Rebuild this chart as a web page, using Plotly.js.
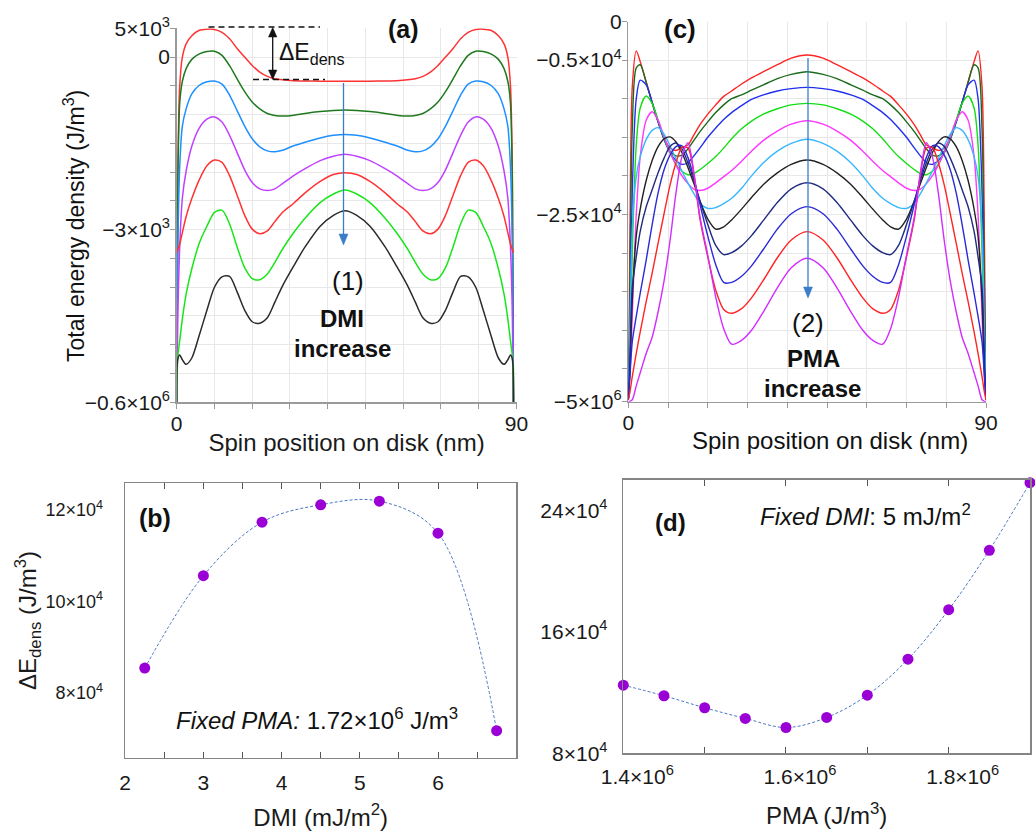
<!DOCTYPE html>
<html>
<head>
<meta charset="utf-8">
<script src="https://cdn.plot.ly/plotly-3.0.1.min.js"></script>
<style>
  html, body { margin: 0; padding: 0; background: #ffffff; }
  #chart { width: 1035px; height: 832px; }
</style>
</head>
<body>
<div id="chart"></div>
<script>
// ---------- Panel (a): total energy density vs spin position, DMI increase (units: 10^3 J/m^3) ----------
const posA = [0,0.3,0.8,1.5,2.5,4,6,8,10,12,14,16,18,20,22,24,26,28,31,34,38,41.5,44.6,47.7,51.2,55.2,58.2,61.2,63.2,65.2,67.2,69.2,71.2,73.2,75.2,77.2,79.2,81.2,83.2,85.2,86.7,87.7,88.4,88.9,89.2];
const energyA1 = [-60,-20,-5,0,2.3,3.7,4.65,4.85,4.8,4.3,3.2,1.5,0,-1.45,-2.6,-3.35,-3.75,-3.95,-4.1,-4.15,-4.2,-4.2,-4.2,-4.2,-4.2,-4.15,-4.1,-3.95,-3.75,-3.35,-2.6,-1.45,0,1.5,3.2,4.3,4.8,4.85,4.65,3.7,2.3,0,-5,-20,-60];
const energyA2 = [-60,-22,-8,-4.2,-2,-0.4,0.55,0.95,1,0.3,-1.5,-3.8,-6,-7.8,-9,-9.8,-10.15,-10.25,-10.1,-9.8,-9.48,-9.28,-9.2,-9.28,-9.48,-9.8,-10.1,-10.25,-10.15,-9.8,-9,-7.8,-6,-3.8,-1.5,0.3,1,0.95,0.55,-0.4,-2,-4.2,-8,-22,-60];
const energyA3 = [-60,-33,-19,-12,-9,-6.4,-4.9,-4.3,-4.17,-4.7,-6.6,-9.3,-12,-14.2,-15.6,-16.3,-16.45,-16.2,-15.4,-14.8,-14.05,-13.6,-13.44,-13.6,-14.05,-14.8,-15.4,-16.2,-16.45,-16.3,-15.6,-14.2,-12,-9.3,-6.6,-4.7,-4.17,-4.3,-4.9,-6.4,-9,-12,-19,-33,-60];
const energyA4 = [-60,-45,-33,-24.5,-19.8,-15.5,-12.3,-10.8,-10.4,-11.3,-13.6,-16.6,-19.6,-21.8,-22.9,-23.2,-22.9,-22,-20.6,-19.4,-18,-17.25,-16.9,-17.25,-18,-19.4,-20.6,-22,-22.9,-23.2,-22.9,-21.8,-19.6,-16.6,-13.6,-11.3,-10.4,-10.8,-12.3,-15.5,-19.8,-24.5,-33,-45,-60];
const energyA5 = [-34,-33.5,-32.5,-30.5,-27.7,-24.6,-21.3,-18.9,-17.9,-18.3,-20.6,-24,-27.5,-29.9,-30.7,-30.2,-28.6,-27,-25.4,-23.6,-21.6,-20.4,-20.1,-20.4,-21.6,-23.6,-25.4,-27,-28.6,-30.2,-30.7,-29.9,-27.5,-24,-20.6,-18.3,-17.9,-18.9,-21.3,-24.6,-27.7,-30.5,-32.5,-33.5,-34];
const energyA6 = [-60,-52,-49.3,-45.5,-41.2,-36.8,-32.3,-29.4,-27,-26.6,-29,-33,-36.6,-38.5,-38.7,-37.7,-35.7,-33.4,-30.5,-28,-25.3,-23.8,-23.1,-23.8,-25.3,-28,-30.5,-33.4,-35.7,-37.7,-38.7,-38.5,-36.6,-33,-29,-26.6,-27,-29.4,-32.3,-36.8,-41.2,-45.5,-49.3,-52,-60];
const energyA7 = [-60,-52.5,-51.8,-52.6,-53.4,-52.3,-48.3,-44,-40,-38.2,-38.1,-40.8,-44,-46,-46.25,-45.3,-42.6,-39.8,-36.3,-33,-29.4,-27.5,-26.7,-27.5,-29.4,-33,-36.3,-39.8,-42.6,-45.3,-46.25,-46,-44,-40.8,-38.1,-38.2,-40,-44,-48.3,-52.3,-53.4,-52.6,-51.8,-52.5,-60];
const seriesA = [energyA1, energyA2, energyA3, energyA4, energyA5, energyA6, energyA7];
const colorsA = ['#ff3333', '#1f7a1f', '#1e8fff', '#c040ff', '#ff3333', '#19e619', '#2b2b2b'];
const yLabelValsA = [-60, -30, 0, 5];
const yLabelTextA = ['\u22120.6×10<sup>6</sup>', '\u22123×10<sup>3</sup>', '0', '5×10<sup>3</sup>'];
const yMinorValsA = [-55,-50,-45,-40,-35,-25,-20,-15,-10,-5];

// ---------- Panel (c): total energy density vs spin position, PMA increase (units: 10^3 J/m^3) ----------
const posC = [0,0.4,1,2,3,4.5,6,7.5,9,10.5,12,13.5,15,16.5,18,20,22,24,26,28.5,31,34,37.5,41,45,49,52.5,56,59,61.5,64,66,68,70,72,73.5,75,76.5,78,79.5,81,82.5,84,85.5,87,88,89,89.6,90];
const energyC1 = [-49,-28,-8.5,-3.8,-5.2,-7.8,-10.5,-13,-15.1,-16.4,-16.7,-16.3,-16,-14.7,-13.4,-12,-10.8,-9.7,-9,-8.1,-7.3,-6.5,-5.6,-4.75,-4.34,-4.75,-5.6,-6.5,-7.3,-8.1,-9,-9.7,-10.8,-12,-13.4,-14.7,-16,-16.3,-16.7,-16.4,-15.1,-13,-10.5,-7.8,-5.2,-3.8,-8.5,-28,-49];
const energyC2 = [-49,-35,-14,-6,-5.6,-7.9,-10.5,-13,-15.2,-16.8,-17.4,-17.3,-16.5,-15.4,-14.3,-13,-11.8,-10.8,-10,-9.5,-8.9,-8.2,-7.4,-6.85,-6.5,-6.85,-7.4,-8.2,-8.9,-9.5,-10,-10.8,-11.8,-13,-14.3,-15.4,-16.5,-17.3,-17.4,-16.8,-15.2,-13,-10.5,-7.9,-5.6,-6,-14,-35,-49];
const energyC3 = [-49,-40,-22,-10,-7.6,-8.2,-10.5,-13,-15.3,-17,-18,-18.5,-18.3,-17.4,-16.4,-15,-13.8,-12.7,-11.8,-10.9,-10.1,-9.5,-9,-8.7,-8.53,-8.7,-9,-9.5,-10.1,-10.9,-11.8,-12.7,-13.8,-15,-16.4,-17.4,-18.3,-18.5,-18,-17,-15.3,-13,-10.5,-8.2,-7.6,-10,-22,-40,-49];
const energyC4 = [-49,-44,-30,-16,-11.2,-9.65,-10.6,-12.8,-15.1,-17,-18.5,-19.4,-19.85,-19.7,-19.2,-18.4,-17.5,-16.4,-15.2,-13.9,-12.9,-12,-11.3,-10.8,-10.6,-10.8,-11.3,-12,-12.9,-13.9,-15.2,-16.4,-17.5,-18.4,-19.2,-19.7,-19.85,-19.4,-18.5,-17,-15.1,-12.8,-10.6,-9.65,-11.2,-16,-30,-44,-49];
const energyC5 = [-49,-46,-38,-25,-17.5,-12.8,-11.7,-12.8,-14.9,-16.9,-18.6,-20,-21,-21.7,-21.9,-21.6,-20.9,-20.1,-19.3,-18.1,-16.8,-15.4,-14.2,-13.3,-12.85,-13.3,-14.2,-15.4,-16.8,-18.1,-19.3,-20.1,-20.9,-21.6,-21.9,-21.7,-21,-20,-18.6,-16.9,-14.9,-12.8,-11.7,-12.8,-17.5,-25,-38,-46,-49];
const energyC6 = [-49,-40,-27,-20.1,-17.5,-15.3,-14.1,-13.75,-14.6,-16.1,-17.8,-19.4,-20.9,-22.3,-23.5,-24.2,-24.1,-23.6,-22.9,-21.6,-20,-18.3,-16.8,-15.8,-15.26,-15.8,-16.8,-18.3,-20,-21.6,-22.9,-23.6,-24.1,-24.2,-23.5,-22.3,-20.9,-19.4,-17.8,-16.1,-14.6,-13.75,-14.1,-15.3,-17.5,-20.1,-27,-40,-49];
const energyC7 = [-49,-45,-36,-27.8,-24.3,-20.6,-18,-16.2,-15.2,-14.95,-15.6,-17,-18.9,-21,-23.2,-25.6,-26.9,-26.6,-25.7,-24.3,-22.8,-21.1,-19.6,-18.5,-17.94,-18.5,-19.6,-21.1,-22.8,-24.3,-25.7,-26.6,-26.9,-25.6,-23.2,-21,-18.9,-17,-15.6,-14.95,-15.2,-16.2,-18,-20.6,-24.3,-27.8,-36,-45,-49];
const energyC8 = [-49,-44,-34.5,-30.5,-27.2,-24,-21.8,-19.6,-17.7,-16.2,-15.75,-16.5,-18.3,-20.6,-23.2,-26.3,-29,-30.2,-29.94,-29.07,-27.74,-25.77,-23.44,-21.67,-20.88,-21.67,-23.44,-25.77,-27.74,-29.07,-29.94,-30.2,-29,-26.3,-23.2,-20.6,-18.3,-16.5,-15.75,-16.2,-17.7,-19.6,-21.8,-24,-27.2,-30.5,-34.5,-44,-49];
const energyC9 = [-49,-46,-41.5,-38.2,-35.2,-30.9,-26.3,-22.2,-19.2,-17.3,-16.2,-16.1,-17.6,-20.3,-23.6,-27.8,-31.5,-33.8,-33.8,-33,-31.65,-29.5,-26.9,-24.9,-23.98,-24.9,-26.9,-29.5,-31.65,-33,-33.8,-33.8,-31.5,-27.8,-23.6,-20.3,-17.6,-16.1,-16.2,-17.3,-19.2,-22.2,-26.3,-30.9,-35.2,-38.2,-41.5,-46,-49];
const energyC10 = [-49,-48,-46,-43,-40.2,-36.3,-32.6,-28.7,-24.9,-21.2,-18.3,-16.3,-16.4,-19.8,-25.5,-30.5,-34.8,-37.3,-37.8,-37.2,-35.8,-33.5,-30.6,-28.3,-27.22,-28.3,-30.6,-33.5,-35.8,-37.2,-37.8,-37.3,-34.8,-30.5,-25.5,-19.8,-16.4,-16.3,-18.3,-21.2,-24.9,-28.7,-32.6,-36.3,-40.2,-43,-46,-48,-49];
const energyC11 = [-49.2,-49.2,-49,-47.2,-45.5,-43,-40.9,-37.6,-33.6,-28.4,-22.2,-17.5,-15.7,-19.5,-25.2,-30.3,-35.7,-39.8,-41.8,-41.3,-40,-37.6,-34.5,-31.9,-30.67,-31.9,-34.5,-37.6,-40,-41.3,-41.8,-39.8,-35.7,-30.3,-25.2,-19.5,-15.7,-17.5,-22.2,-28.4,-33.6,-37.6,-40.9,-43,-45.5,-47.2,-49,-49.2,-49.2];
const seriesC = [energyC1, energyC2, energyC3, energyC4, energyC5, energyC6, energyC7, energyC8, energyC9, energyC10, energyC11];
const colorsC = ['#ff2424', '#1b6b1b', '#2030ee', '#14dd14', '#ff38ff', '#38b6ff', '#222222', '#1f2a80', '#2a2ad6', '#ff2424', '#d22cff'];
const yLabelValsC = [-49.25, -25, -5, 0];
const yLabelTextC = ['\u22125×10<sup>6</sup>', '\u22122.5×10<sup>4</sup>', '\u22120.5×10<sup>4</sup>', '0'];
const yMinorValsC = [-45,-40,-35,-30,-20,-15,-10];

const posLabelVals = [0, 90];
const posMinorVals = [10,20,30,40,50,60,70,80];

// ---------- Panel (b): ΔE_dens vs DMI (units: 10^4 J/m^3) ----------
const dmiB = [2.25, 3, 3.75, 4.5, 5.25, 6, 6.75];
const deltaEB = [8.96, 10.98, 12.15, 12.53, 12.61, 11.91, 7.59];
const bXTicks = [2, 3, 4, 5, 6];
const bYTickVals = [8, 10, 12];
const bYTickText = ['8×10<sup>4</sup>', '10×10<sup>4</sup>', '12×10<sup>4</sup>'];

// ---------- Panel (d): ΔE_dens vs PMA (PMA in 10^6 J/m^3, ΔE in 10^4 J/m^3) ----------
const pmaD = [1.40, 1.45, 1.50, 1.55, 1.60, 1.65, 1.70, 1.75, 1.80, 1.85, 1.90];
const deltaED = [12.49, 11.79, 11.0, 10.3, 9.70, 10.36, 11.83, 14.2, 17.46, 21.37, 25.82];
const dXTickVals = [1.4, 1.6, 1.8];
const dXTickText = ['1.4×10<sup>6</sup>', '1.6×10<sup>6</sup>', '1.8×10<sup>6</sup>'];
const dYTickVals = [8, 16, 24];
const dYTickText = ['8×10<sup>4</sup>', '16×10<sup>4</sup>', '24×10<sup>4</sup>'];

// ---------- traces ----------
const FONT = 'Liberation Sans, Arial, sans-serif';
const traces = [];
seriesA.forEach((ys, i) => traces.push({
  type: 'scatter', mode: 'lines', x: posA, y: ys, xaxis: 'x', yaxis: 'y',
  line: { color: colorsA[i], width: 1.5, shape: 'spline', smoothing: 0.8 }, hoverinfo: 'skip'
}));
seriesC.forEach((ys, i) => traces.push({
  type: 'scatter', mode: 'lines', x: posC, y: ys, xaxis: 'x2', yaxis: 'y2',
  line: { color: colorsC[i], width: 1.4, shape: 'spline', smoothing: 0.8 }, hoverinfo: 'skip'
}));
traces.push({ type: 'scatter', mode: 'lines', x: dmiB, y: deltaEB, xaxis: 'x3', yaxis: 'y3',
  line: { color: '#4a78c0', width: 1, dash: '3px,2px', shape: 'spline', smoothing: 1 } });
traces.push({ type: 'scatter', mode: 'markers', x: dmiB, y: deltaEB, xaxis: 'x3', yaxis: 'y3', cliponaxis: false,
  marker: { color: '#9a00d6', size: 11 } });
traces.push({ type: 'scatter', mode: 'lines', x: pmaD, y: deltaED, xaxis: 'x4', yaxis: 'y4',
  line: { color: '#4a78c0', width: 1, dash: '3px,2px', shape: 'spline', smoothing: 1 } });
traces.push({ type: 'scatter', mode: 'markers', x: pmaD, y: deltaED, xaxis: 'x4', yaxis: 'y4', cliponaxis: false,
  marker: { color: '#9a00d6', size: 11 } });

const P = (px) => px / 1035;
const Q = (py) => 1 - py / 832;
const tri = (x1, y1, x2, y2, x3, y3) =>
  `M ${P(x1)},${Q(y1)} L ${P(x2)},${Q(y2)} L ${P(x3)},${Q(y3)} Z`;
const note = (px, py, text, size, extra) => Object.assign({
  xref: 'paper', yref: 'paper', x: P(px), y: Q(py), xanchor: 'center', yanchor: 'middle',
  showarrow: false, text: text, font: { family: FONT, size: size, color: '#111' }
}, extra || {});

const posAxisBase = {
  range: [0, 90], tickmode: 'array', tickvals: posLabelVals,
  ticks: 'outside', ticklen: 5, tickcolor: '#9a9a9a', tickwidth: 1, ticklabelstandoff: -3,
  minor: { tickmode: 'array', tickvals: posMinorVals, ticks: 'outside', ticklen: 5, tickcolor: '#9a9a9a',
           showgrid: true, gridcolor: '#e8e8e8', gridwidth: 1 },
  showgrid: true, gridcolor: '#e8e8e8', gridwidth: 1, zeroline: false,
  showline: true, linecolor: '#9a9a9a', linewidth: 1.5,
  tickfont: { family: FONT, size: 21, color: '#1a1a1a' }
};
const boxLine = '#858585';
const blueArrow = '#3b7dc9';

const layout = {
  width: 1035, height: 832,
  margin: { l: 0, r: 0, t: 0, b: 0 },
  paper_bgcolor: '#ffffff', plot_bgcolor: '#ffffff',
  showlegend: false,
  font: { family: FONT, color: '#1a1a1a' },
  xaxis: Object.assign({}, posAxisBase, { domain: [P(176.7), P(516.5)], anchor: 'y',
    title: { text: 'Spin position on disk (nm)', font: { family: FONT, size: 24, color: '#1a1a1a' }, standoff: 0 } }),
  yaxis: {
    domain: [Q(402.3), Q(28.3)], anchor: 'x', range: [-60, 5],
    tickmode: 'array', tickvals: yLabelValsA, ticktext: yLabelTextA,
    ticks: 'outside', ticklen: 5, tickcolor: '#9a9a9a', ticklabelstandoff: -4,
    minor: { tickmode: 'array', tickvals: yMinorValsA, ticks: 'outside', ticklen: 5, tickcolor: '#9a9a9a',
             showgrid: true, gridcolor: '#e8e8e8', gridwidth: 1 },
    showgrid: true, gridcolor: '#e8e8e8', zeroline: false,
    showline: true, linecolor: '#9a9a9a', linewidth: 1.5,
    tickfont: { family: FONT, size: 21, color: '#1a1a1a' }
  },
  xaxis2: Object.assign({}, posAxisBase, { domain: [P(628.3), P(986)], anchor: 'y2' }),
  yaxis2: {
    domain: [Q(401.7), Q(21.5)], anchor: 'x2', range: [-49.25, 0],
    tickmode: 'array', tickvals: yLabelValsC, ticktext: yLabelTextC,
    ticks: 'outside', ticklen: 5, tickcolor: '#9a9a9a', ticklabelstandoff: -4,
    minor: { tickmode: 'array', tickvals: yMinorValsC, ticks: 'outside', ticklen: 5, tickcolor: '#9a9a9a',
             showgrid: true, gridcolor: '#e8e8e8', gridwidth: 1 },
    showgrid: true, gridcolor: '#e8e8e8', zeroline: false,
    showline: true, linecolor: '#9a9a9a', linewidth: 1.5,
    tickfont: { family: FONT, size: 21, color: '#1a1a1a' }
  },
  xaxis3: {
    domain: [P(125.2), P(516.2)], anchor: 'y3', range: [2, 7],
    tickmode: 'array', tickvals: bXTicks, ticks: 'inside', ticklen: 6, tickcolor: '#555', ticklabelstandoff: 5,
    minor: { tickmode: 'array', tickvals: [2.5, 3.5, 4.5, 5.5, 6.5], ticks: 'inside', ticklen: 6, tickcolor: '#555' },
    mirror: 'ticks', showline: true, linecolor: boxLine, linewidth: 1.6,
    showgrid: false, zeroline: false,
    tickfont: { family: FONT, size: 21, color: '#1a1a1a' },
    title: { text: 'DMI (mJ/m<sup>2</sup>)', font: { family: FONT, size: 24, color: '#1a1a1a' }, standoff: 16 }
  },
  yaxis3: {
    domain: [Q(757.7), Q(483.3)], anchor: 'x3', range: [7, 13],
    tickmode: 'array', tickvals: bYTickVals, ticktext: bYTickText, ticks: '',
    ticklabelshift: -19, ticklabelstandoff: 17,
    mirror: true, showline: true, linecolor: boxLine, linewidth: 1.6,
    showgrid: false, zeroline: false,
    tickfont: { family: FONT, size: 18, color: '#1a1a1a' },
    title: { text: '\u0394E<sub>dens</sub> (J/m<sup>3</sup>)', font: { family: FONT, size: 24, color: '#1a1a1a' }, standoff: 0 }
  },
  yaxis5: {
    overlaying: 'y3', anchor: 'x3', side: 'right', range: [7, 13],
    tickmode: 'array', tickvals: [8, 9, 10, 11, 12], ticks: 'inside', ticklen: 6, tickcolor: '#555',
    showticklabels: false, showgrid: false, zeroline: false, showline: false
  },
  xaxis4: {
    domain: [P(623.3), P(1030)], anchor: 'y4', range: [1.4, 1.9],
    tickmode: 'array', tickvals: dXTickVals, ticktext: dXTickText, ticks: 'inside', ticklen: 6, tickcolor: '#555',
    minor: { tickmode: 'array', tickvals: [1.5, 1.7, 1.9], ticks: 'inside', ticklen: 6, tickcolor: '#555' },
    ticklabelshift: 14, ticklabelstandoff: 4,
    mirror: 'ticks', showline: true, linecolor: boxLine, linewidth: 1.6,
    showgrid: false, zeroline: false,
    tickfont: { family: FONT, size: 21, color: '#1a1a1a' },
    title: { text: 'PMA (J/m<sup>3</sup>)', font: { family: FONT, size: 24, color: '#1a1a1a' }, standoff: 20 }
  },
  yaxis4: {
    domain: [Q(753.3), Q(480)], anchor: 'x4', range: [8, 26],
    tickmode: 'array', tickvals: dYTickVals, ticktext: dYTickText, ticks: '', ticklabelstandoff: 10,
    mirror: true, showline: true, linecolor: boxLine, linewidth: 1.6,
    showgrid: false, zeroline: false,
    tickfont: { family: FONT, size: 21, color: '#1a1a1a' }
  },
  yaxis6: {
    overlaying: 'y4', anchor: 'x4', side: 'right', range: [8, 26],
    tickmode: 'array', tickvals: [10, 12, 14, 16, 18, 20, 22, 24], ticks: 'inside', ticklen: 6, tickcolor: '#555',
    showticklabels: false, showgrid: false, zeroline: false, showline: false
  },
  shapes: [
    // ΔE_dens guide lines and double arrow
    { type: 'line', xref: 'paper', yref: 'paper', x0: P(208.5), x1: P(320), y0: Q(27), y1: Q(27),
      line: { color: '#111', width: 1.5, dash: '6px,4px' } },
    { type: 'line', xref: 'paper', yref: 'paper', x0: P(253), x1: P(325), y0: Q(79.5), y1: Q(79.5),
      line: { color: '#111', width: 1.5, dash: '6px,4px' } },
    { type: 'line', xref: 'paper', yref: 'paper', x0: P(272.7), x1: P(272.7), y0: Q(35), y1: Q(72),
      line: { color: '#111', width: 1.3 } },
    { type: 'path', xref: 'paper', yref: 'paper', path: tri(272.7, 27.5, 268.5, 37, 276.9, 37),
      fillcolor: '#111', line: { color: '#111', width: 0.5 } },
    { type: 'path', xref: 'paper', yref: 'paper', path: tri(272.7, 79.5, 268.5, 70, 276.9, 70),
      fillcolor: '#111', line: { color: '#111', width: 0.5 } },
    // blue arrow in (a)
    { type: 'line', xref: 'paper', yref: 'paper', x0: P(343.5), x1: P(343.5), y0: Q(83), y1: Q(237),
      line: { color: blueArrow, width: 1.3 } },
    { type: 'path', xref: 'paper', yref: 'paper', path: tri(343.5, 245, 339, 234, 348, 234),
      fillcolor: blueArrow, line: { color: blueArrow, width: 0.5 } },
    // blue arrow in (c)
    { type: 'line', xref: 'paper', yref: 'paper', x0: P(808), x1: P(808), y0: Q(58), y1: Q(290),
      line: { color: blueArrow, width: 1.3 } },
    { type: 'path', xref: 'paper', yref: 'paper', path: tri(808, 298, 803.5, 287, 812.5, 287),
      fillcolor: blueArrow, line: { color: blueArrow, width: 0.5 } }
  ],
  annotations: [
    note(74, 226, 'Total energy density (J/m<sup>3</sup>)', 23, { textangle: -90 }),
    note(830, 441, 'Spin position on disk (nm)', 24),
    note(277, 53, '\u0394E<sub>dens</sub>', 23, { xanchor: 'left' }),
    // panel letters
    note(403, 29, '<b>(a)</b>', 25),
    note(680, 29, '<b>(c)</b>', 26),
    note(154.7, 517.5, '<b>(b)</b>', 25),
    note(670, 522.5, '<b>(d)</b>', 24),
    // (1) DMI increase
    note(347.5, 281, '(1)', 26),
    note(342, 318, '<b>DMI</b>', 24),
    note(342.3, 348, '<b>increase</b>', 24),
    // (2) PMA increase
    note(808, 323, '(2)', 26),
    note(813, 358, '<b>PMA</b>', 24),
    note(812.7, 388, '<b>increase</b>', 24),
    // fixed-parameter notes
    note(174, 719, '<i>Fixed PMA:</i> 1.72×10<sup>6</sup> J/m<sup>3</sup>', 24, { xanchor: 'left' }),
    note(758, 515, '<i>Fixed DMI</i>: 5 mJ/m<sup>2</sup>', 24, { xanchor: 'left' })
  ]
};

Plotly.newPlot('chart', traces, layout, { displayModeBar: false, staticPlot: true });
</script>
</body>
</html>
